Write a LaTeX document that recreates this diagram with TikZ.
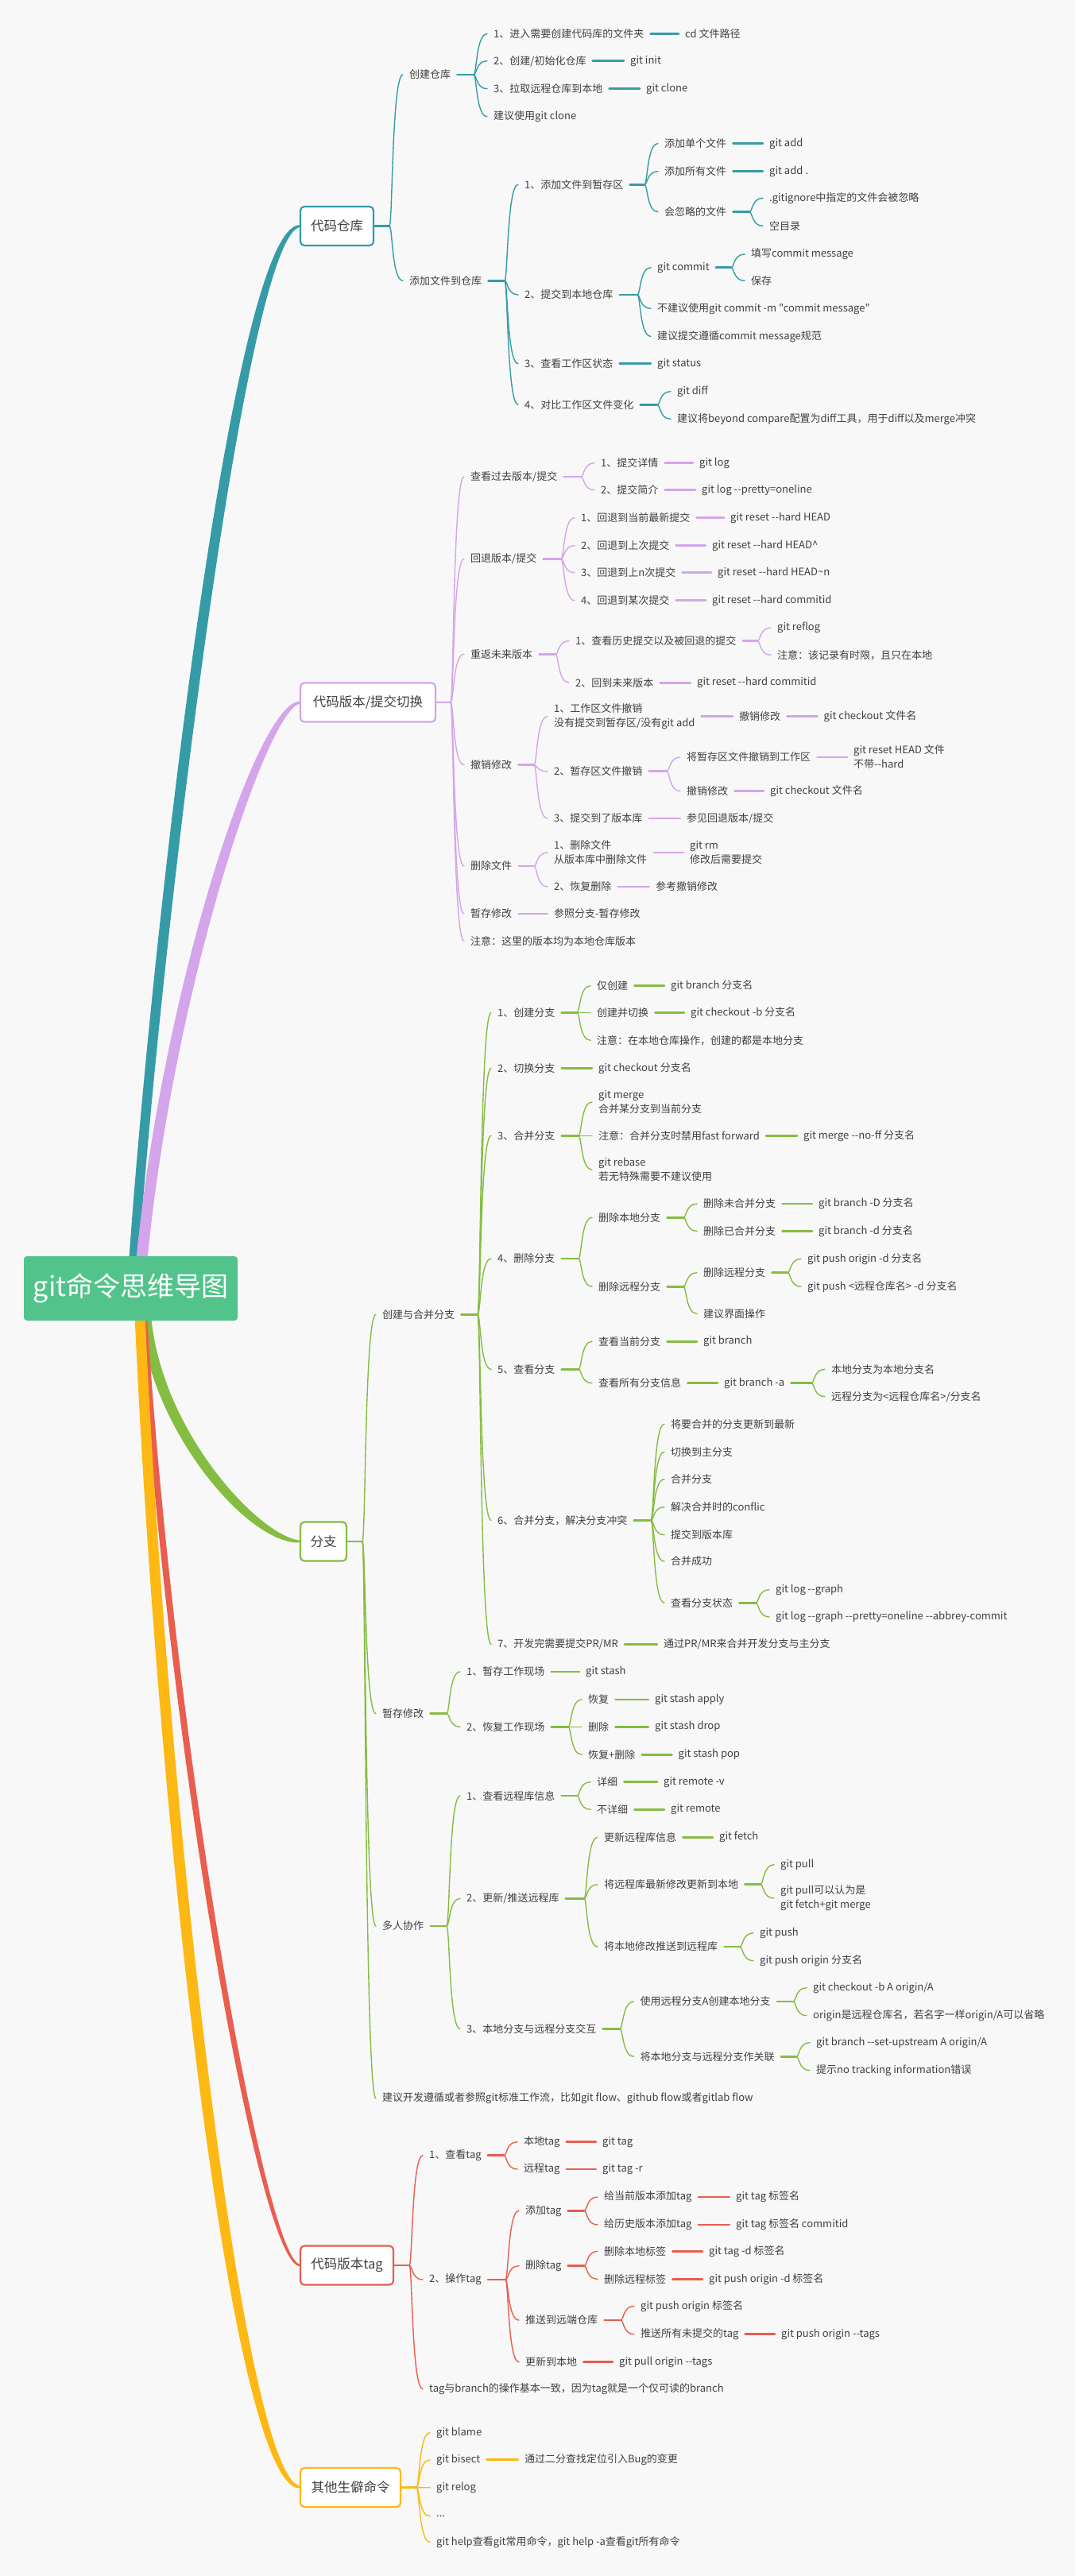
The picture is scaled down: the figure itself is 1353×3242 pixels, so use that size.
\documentclass[tikz,border=0pt]{standalone}
\usepackage{fontspec}
\newfontfamily\cjk{Noto Sans CJK SC}
\definecolor{ctl}{HTML}{359CA7}
\definecolor{clv}{HTML}{D4A5EA}
\definecolor{cgn}{HTML}{84BD41}
\definecolor{crd}{HTML}{E95E4E}
\definecolor{cyw}{HTML}{FDB813}
\definecolor{rootc}{HTML}{52C48B}
\definecolor{txc}{HTML}{404040}
\definecolor{bgc}{HTML}{F8F8F8}
\tikzset{
 tx/.style={anchor=west, inner sep=0pt, font=\cjk\fontsize{13}{18}\selectfont, text=txc, align=left},
 lone/.style={draw, fill=white, line width=2.2pt, rounded corners=5pt, minimum height=49pt, inner sep=0pt, font=\cjk\fontsize{16.5}{20}\selectfont, text=txc},
 stb/.style={line width=2.6pt, line cap=round},
 crv/.style={line width=1.4pt, line cap=round},
}
\newcommand\fan[5]{%
  \draw[stb,#1] ([xshift=8pt]#2.east) -- (#3,#4);
  \foreach \kid in {#5}{\draw[crv,#1] (#3,#4) .. controls +(4,0) and +(-14,0) .. ([xshift=-8pt]\kid.west);}%
}
\newcommand\fanbox[5]{%
  \draw[stb,#1] (#2.east) -- (#3,#4);
  \foreach \kid in {#5}{\draw[crv,#1] (#3,#4) .. controls +(4,0) and +(-14,0) .. ([xshift=-8pt]\kid.west);}%
}
\newcommand\lnk[3]{\draw[stb,#1] ([xshift=8pt]#2.east) -- ([xshift=-8pt]#3.west);}
\begin{document}
\begin{tikzpicture}[x=1pt,y=-1pt]
\fill[bgc] (0,0) rectangle (1353,3242);
\useasboundingbox (0,0) rectangle (1353,3242);
% main tapered branches
\fill[ctl] (162,1590) .. controls (189,1200) and (291.6,276.6) .. (378,283.2) -- (378,285.8) .. controls (308.4,292.4) and (201,1200) .. (174,1590) -- cycle;
\fill[clv] (171,1590) .. controls (203,1250) and (324,879) .. (378,882.7) -- (378,885.3) .. controls (336,891) and (217,1250) .. (185,1590) -- cycle;
\fill[cgn] (176,1655) .. controls (188,1800) and (314,1946) .. (378,1941.3) -- (378,1938.7) .. controls (326,1934) and (202,1800) .. (190,1655) -- cycle;
\fill[crd] (177,1655) .. controls (211,2200) and (326,2855) .. (378,2852.2) -- (378,2849.8) .. controls (334,2847) and (219,2200) .. (185,1655) -- cycle;
\fill[cyw] (169.5,1655) .. controls (198.5,2300) and (292,3138) .. (378,3131.5) -- (378,3128.5) .. controls (308,3122) and (211.5,2300) .. (182.5,1655) -- cycle;
% root
\node[fill=rootc, rounded corners=4pt, minimum width=269pt, minimum height=81pt, inner sep=0pt, font=\cjk\fontsize{34}{38}\selectfont, text=white] (R) at (164.5,1621.5) {git命令思维导图};
% level one
\node[lone, draw=ctl, minimum width=92pt] (A) at (424,284.5) {代码仓库};
\node[lone, draw=clv, minimum width=170pt] (B) at (463,884) {代码版本/提交切换};
\node[lone, draw=cgn, minimum width=58pt] (C) at (407,1940) {分支};
\node[lone, draw=crd, minimum width=117pt] (D) at (436.5,2851) {代码版本tag};
\node[lone, draw=cyw, minimum width=126pt] (E) at (441,3130.5) {其他生僻命令};
% ---------- A
\node[tx] (a1) at (515,94) {创建仓库};
\node[tx] (a11) at (621,42.7) {1、进入需要创建代码库的文件夹};
\node[tx] (a11x) at (862,42.7) {cd 文件路径};
\node[tx] (a12) at (621,76.7) {2、创建/初始化仓库};
\node[tx] (a12x) at (793,76.7) {git init};
\node[tx] (a13) at (621,111.7) {3、拉取远程仓库到本地};
\node[tx] (a13x) at (813,111.7) {git clone};
\node[tx] (a14) at (621,146.7) {建议使用git clone};
\node[tx] (a2) at (515,353.3) {添加文件到仓库};
\node[tx] (a21) at (660,232.3) {1、添加文件到暂存区};
\node[tx] (a211) at (836,180.7) {添加单个文件};
\node[tx] (a211x) at (968,180.7) {git add};
\node[tx] (a212) at (836,215.7) {添加所有文件};
\node[tx] (a212x) at (968,215.7) {git add .};
\node[tx] (a213) at (836,266.7) {会忽略的文件};
\node[tx] (a2131) at (968,249.3) {.gitignore中指定的文件会被忽略};
\node[tx] (a2132) at (968,284.3) {空目录};
\node[tx] (a22) at (660,371) {2、提交到本地仓库};
\node[tx] (a221) at (827,336.7) {git commit};
\node[tx] (a2211) at (945,320) {填写commit message};
\node[tx] (a2212) at (945,353.3) {保存};
\node[tx] (a222) at (827,388.3) {不建议使用git commit -m "commit message"};
\node[tx] (a223) at (827,423.3) {建议提交遵循commit message规范};
\node[tx] (a23) at (660,457.7) {3、查看工作区状态};
\node[tx] (a23x) at (827,457.7) {git status};
\node[tx] (a24) at (660,509.3) {4、对比工作区文件变化};
\node[tx] (a241) at (852,492.7) {git diff};
\node[tx] (a242) at (852,527.3) {建议将beyond compare配置为diff工具，用于diff以及merge冲突};
% ---------- B
\node[tx] (b1) at (592,600) {查看过去版本/提交};
\node[tx] (b11) at (756,582.7) {1、提交详情};
\node[tx] (b11x) at (880,582.7) {git log};
\node[tx] (b12) at (756,616.7) {2、提交简介};
\node[tx] (b12x) at (883,616.7) {git log --pretty=oneline};
\node[tx] (b2) at (592,703.3) {回退版本/提交};
\node[tx] (b21) at (731,651.7) {1、回退到当前最新提交};
\node[tx] (b21x) at (919,651.7) {git reset --hard HEAD};
\node[tx] (b22) at (731,686.7) {2、回退到上次提交};
\node[tx] (b22x) at (896,686.7) {git reset --hard HEAD\textasciicircum};
\node[tx] (b23) at (731,720.7) {3、回退到上n次提交};
\node[tx] (b23x) at (903,720.7) {git reset --hard HEAD\textasciitilde n};
\node[tx] (b24) at (731,755.7) {4、回退到某次提交};
\node[tx] (b24x) at (896,755.7) {git reset --hard commitid};
\node[tx] (b3) at (592,823.3) {重返未来版本};
\node[tx] (b31) at (724,806.7) {1、查看历史提交以及被回退的提交};
\node[tx] (b311) at (978,790) {git reflog};
\node[tx] (b312) at (978,824.3) {注意：该记录有时限，且只在本地};
\node[tx] (b32) at (724,859.3) {2、回到未来版本};
\node[tx] (b32x) at (877,859.3) {git reset --hard commitid};
\node[tx] (b4) at (592,962.7) {撤销修改};
\node[tx] (b41) at (697,901.6) {1、工作区文件撤销\\没有提交到暂存区/没有git add};
\node[tx] (b41x) at (930,901.6) {撤销修改};
\node[tx] (b41y) at (1036.5,901.6) {git checkout 文件名};
\node[tx] (b42) at (697,970.7) {2、暂存区文件撤销};
\node[tx] (b421) at (864,953) {将暂存区文件撤销到工作区};
\node[tx] (b421x) at (1074,953) {git reset HEAD 文件\\不带--hard};
\node[tx] (b422) at (864,995.7) {撤销修改};
\node[tx] (b422x) at (969,995.7) {git checkout 文件名};
\node[tx] (b43) at (697,1030) {3、提交到了版本库};
\node[tx] (b43x) at (864,1030) {参见回退版本/提交};
\node[tx] (b5) at (592,1090) {删除文件};
\node[tx] (b51) at (697,1073) {1、删除文件\\从版本库中删除文件};
\node[tx] (b51x) at (868,1073) {git rm\\修改后需要提交};
\node[tx] (b52) at (697,1116) {2、恢复删除};
\node[tx] (b52x) at (825,1116) {参考撤销修改};
\node[tx] (b6) at (592,1150) {暂存修改};
\node[tx] (b6x) at (697,1150) {参照分支-暂存修改};
\node[tx] (b7) at (592,1184.3) {注意：这里的版本均为本地仓库版本};
% ---------- C
\node[tx] (c1) at (481,1654.3) {创建与合并分支};
\node[tx] (c11) at (626,1274.3) {1、创建分支};
\node[tx] (c111) at (751,1240.7) {仅创建};
\node[tx] (c111x) at (844,1240.7) {git branch 分支名};
\node[tx] (c112) at (751,1274.3) {创建并切换};
\node[tx] (c112x) at (869,1274.3) {git checkout -b 分支名};
\node[tx] (c113) at (751,1309.3) {注意：在本地仓库操作，创建的都是本地分支};
\node[tx] (c12) at (626,1344.3) {2、切换分支};
\node[tx] (c12x) at (753,1344.3) {git checkout 分支名};
\node[tx] (c13) at (626,1429.3) {3、合并分支};
\node[tx] (c131) at (753,1387) {git merge\\合并某分支到当前分支};
\node[tx] (c132) at (753,1429.3) {注意：合并分支时禁用fast forward};
\node[tx] (c132x) at (1011,1429.3) {git merge --no-ff 分支名};
\node[tx] (c133) at (753,1472) {git rebase\\若无特殊需要不建议使用};
\node[tx] (c14) at (626,1584) {4、删除分支};
\node[tx] (c141) at (753,1532.3) {删除本地分支};
\node[tx] (c1411) at (885,1515) {删除未合并分支};
\node[tx] (c1411x) at (1030,1515) {git branch -D 分支名};
\node[tx] (c1412) at (885,1549.3) {删除已合并分支};
\node[tx] (c1412x) at (1030,1549.3) {git branch -d 分支名};
\node[tx] (c142) at (753,1619.3) {删除远程分支};
\node[tx] (c1421) at (885,1601.7) {删除远程分支};
\node[tx] (c14211) at (1016,1584.3) {git push origin -d 分支名};
\node[tx] (c14212) at (1016,1619.3) {git push <远程仓库名> -d 分支名};
\node[tx] (c1422) at (885,1653.3) {建议界面操作};
\node[tx] (c15) at (626,1723.3) {5、查看分支};
\node[tx] (c151) at (753,1688.3) {查看当前分支};
\node[tx] (c151x) at (885,1688.3) {git branch};
\node[tx] (c152) at (753,1740.7) {查看所有分支信息};
\node[tx] (c152x) at (911,1740.7) {git branch -a};
\node[tx] (c1521) at (1046,1723.3) {本地分支为本地分支名};
\node[tx] (c1522) at (1046,1757.7) {远程分支为<远程仓库名>/分支名};
\node[tx] (c16) at (626,1913.3) {6、合并分支，解决分支冲突};
\node[tx] (c161) at (844,1792.3) {将要合并的分支更新到最新};
\node[tx] (c162) at (844,1827.3) {切换到主分支};
\node[tx] (c163) at (844,1861.7) {合并分支};
\node[tx] (c164) at (844,1896.7) {解决合并时的conflic};
\node[tx] (c165) at (844,1931.7) {提交到版本库};
\node[tx] (c166) at (844,1965) {合并成功};
\node[tx] (c167) at (844,2017.3) {查看分支状态};
\node[tx] (c1671) at (976,2000.7) {git log --graph};
\node[tx] (c1672) at (976,2035) {git log --graph --pretty=oneline --abbrey-commit};
\node[tx] (c17) at (626,2069.3) {7、开发完需要提交PR/MR};
\node[tx] (c17x) at (835,2069.3) {通过PR/MR来合并开发分支与主分支};
\node[tx] (c2) at (481,2156.7) {暂存修改};
\node[tx] (c21) at (587,2104) {1、暂存工作现场};
\node[tx] (c21x) at (737,2104) {git stash};
\node[tx] (c22) at (587,2173.3) {2、恢复工作现场};
\node[tx] (c221) at (740,2139) {恢复};
\node[tx] (c221x) at (824,2139) {git stash apply};
\node[tx] (c222) at (740,2173.3) {删除};
\node[tx] (c222x) at (824,2173.3) {git stash drop};
\node[tx] (c223) at (740,2208.3) {恢复+删除};
\node[tx] (c223x) at (853.5,2208.3) {git stash pop};
\node[tx] (c3) at (481,2424) {多人协作};
\node[tx] (c31) at (587,2260) {1、查看远程库信息};
\node[tx] (c311) at (751,2242.7) {详细};
\node[tx] (c311x) at (835,2242.7) {git remote -v};
\node[tx] (c312) at (751,2277.3) {不详细};
\node[tx] (c312x) at (844,2277.3) {git remote};
\node[tx] (c32) at (587,2389.3) {2、更新/推送远程库};
\node[tx] (c321) at (760,2312.3) {更新远程库信息};
\node[tx] (c321x) at (905,2312.3) {git fetch};
\node[tx] (c322) at (760,2371.7) {将远程库最新修改更新到本地};
\node[tx] (c3221) at (982,2346.7) {git pull};
\node[tx] (c3222) at (982,2389) {git pull可以认为是\\git fetch+git merge};
\node[tx] (c323) at (760,2450) {将本地修改推送到远程库};
\node[tx] (c3231) at (956,2432.7) {git push};
\node[tx] (c3232) at (956,2467.7) {git push origin 分支名};
\node[tx] (c33) at (587,2553.3) {3、本地分支与远程分支交互};
\node[tx] (c331) at (805.5,2519) {使用远程分支A创建本地分支};
\node[tx] (c3311) at (1023,2501.7) {git checkout -b A origin/A};
\node[tx] (c3312) at (1023,2536.7) {origin是远程仓库名，若名字一样origin/A可以省略};
\node[tx] (c332) at (805.5,2588.3) {将本地分支与远程分支作关联};
\node[tx] (c3321) at (1027,2570.7) {git branch --set-upstream A origin/A};
\node[tx] (c3322) at (1027,2605.7) {提示no tracking information错误};
\node[tx] (c4) at (481,2640.7) {建议开发遵循或者参照git标准工作流，比如git flow、github flow或者gitlab flow};
% ---------- D
\node[tx] (d1) at (540,2712.7) {1、查看tag};
\node[tx] (d11) at (659,2695.7) {本地tag};
\node[tx] (d11x) at (758,2695.7) {git tag};
\node[tx] (d12) at (659,2730) {远程tag};
\node[tx] (d12x) at (758,2730) {git tag -r};
\node[tx] (d2) at (540,2869) {2、操作tag};
\node[tx] (d21) at (661,2782.3) {添加tag};
\node[tx] (d211) at (760,2765) {给当前版本添加tag};
\node[tx] (d211x) at (926,2765) {git tag 标签名};
\node[tx] (d212) at (760,2800) {给历史版本添加tag};
\node[tx] (d212x) at (926,2800) {git tag 标签名 commitid};
\node[tx] (d22) at (661,2851.7) {删除tag};
\node[tx] (d221) at (760,2833.3) {删除本地标签};
\node[tx] (d221x) at (892,2833.3) {git tag -d 标签名};
\node[tx] (d222) at (760,2868.3) {删除远程标签};
\node[tx] (d222x) at (892,2868.3) {git push origin -d 标签名};
\node[tx] (d23) at (661,2920) {推送到远端仓库};
\node[tx] (d231) at (806,2902.3) {git push origin 标签名};
\node[tx] (d232) at (806,2937.7) {推送所有未提交的tag};
\node[tx] (d232x) at (983,2937.7) {git push origin --tags};
\node[tx] (d24) at (661,2972.7) {更新到本地};
\node[tx] (d24x) at (779,2972.7) {git pull origin --tags};
\node[tx] (d3) at (540,3006.7) {tag与branch的操作基本一致，因为tag就是一个仅可读的branch};
% ---------- E
\node[tx] (e1) at (549,3061.7) {git blame};
\node[tx] (e2) at (549,3095.7) {git bisect};
\node[tx] (e2x) at (660,3095.7) {通过二分查找定位引入Bug的变更};
\node[tx] (e3) at (549,3130.7) {git relog};
\node[tx] (e4) at (549,3166.7) {...};
\node[tx] (e5) at (549,3199.3) {git help查看git常用命令，git help -a查看git所有命令};
% ---------- connectors A
\fanbox{ctl}{A}{490}{284.5}{a1,a2}
\fan{ctl}{a1}{596}{94}{a11,a12,a13,a14}
\lnk{ctl}{a11}{a11x}\lnk{ctl}{a12}{a12x}\lnk{ctl}{a13}{a13x}
\fan{ctl}{a2}{635}{353.3}{a21,a22,a23,a24}
\fan{ctl}{a21}{811}{232.3}{a211,a212,a213}
\lnk{ctl}{a211}{a211x}\lnk{ctl}{a212}{a212x}
\fan{ctl}{a213}{943}{266.7}{a2131,a2132}
\fan{ctl}{a22}{802}{371}{a221,a222,a223}
\fan{ctl}{a221}{920}{336.7}{a2211,a2212}
\lnk{ctl}{a23}{a23x}
\fan{ctl}{a24}{827}{509.3}{a241,a242}
% ---------- connectors B
\fanbox{clv}{B}{567}{884}{b1,b2,b3,b4,b5,b6,b7}
\fan{clv}{b1}{731}{600}{b11,b12}
\lnk{clv}{b11}{b11x}\lnk{clv}{b12}{b12x}
\fan{clv}{b2}{706}{703.3}{b21,b22,b23,b24}
\lnk{clv}{b21}{b21x}\lnk{clv}{b22}{b22x}\lnk{clv}{b23}{b23x}\lnk{clv}{b24}{b24x}
\fan{clv}{b3}{699}{823.3}{b31,b32}
\fan{clv}{b31}{953}{806.7}{b311,b312}
\lnk{clv}{b32}{b32x}
\fan{clv}{b4}{672}{962.7}{b41,b42,b43}
\lnk{clv}{b41}{b41x}\lnk{clv}{b41x}{b41y}
\fan{clv}{b42}{839}{970.7}{b421,b422}
\lnk{clv}{b421}{b421x}\lnk{clv}{b422}{b422x}\lnk{clv}{b43}{b43x}
\fan{clv}{b5}{672}{1090}{b51,b52}
\lnk{clv}{b51}{b51x}\lnk{clv}{b52}{b52x}
\lnk{clv}{b6}{b6x}
% ---------- connectors C
\fanbox{cgn}{C}{456}{1940}{c1,c2,c3,c4}
\fan{cgn}{c1}{601}{1654.3}{c11,c12,c13,c14,c15,c16,c17}
\fan{cgn}{c11}{726}{1274.3}{c111,c112,c113}
\lnk{cgn}{c111}{c111x}\lnk{cgn}{c112}{c112x}
\lnk{cgn}{c12}{c12x}
\fan{cgn}{c13}{728}{1429.3}{c131,c132,c133}
\lnk{cgn}{c132}{c132x}
\fan{cgn}{c14}{728}{1584}{c141,c142}
\fan{cgn}{c141}{860}{1532.3}{c1411,c1412}
\lnk{cgn}{c1411}{c1411x}\lnk{cgn}{c1412}{c1412x}
\fan{cgn}{c142}{860}{1619.3}{c1421,c1422}
\fan{cgn}{c1421}{991}{1601.7}{c14211,c14212}
\fan{cgn}{c15}{728}{1723.3}{c151,c152}
\lnk{cgn}{c151}{c151x}\lnk{cgn}{c152}{c152x}
\fan{cgn}{c152x}{1021}{1740.7}{c1521,c1522}
\fan{cgn}{c16}{819}{1913.3}{c161,c162,c163,c164,c165,c166,c167}
\fan{cgn}{c167}{951}{2017.3}{c1671,c1672}
\lnk{cgn}{c17}{c17x}
\fan{cgn}{c2}{562}{2156.7}{c21,c22}
\lnk{cgn}{c21}{c21x}
\fan{cgn}{c22}{715}{2173.3}{c221,c222,c223}
\lnk{cgn}{c221}{c221x}\lnk{cgn}{c222}{c222x}\lnk{cgn}{c223}{c223x}
\fan{cgn}{c3}{562}{2424}{c31,c32,c33}
\fan{cgn}{c31}{726}{2260}{c311,c312}
\lnk{cgn}{c311}{c311x}\lnk{cgn}{c312}{c312x}
\fan{cgn}{c32}{735}{2389.3}{c321,c322,c323}
\lnk{cgn}{c321}{c321x}
\fan{cgn}{c322}{957}{2371.7}{c3221,c3222}
\fan{cgn}{c323}{931}{2450}{c3231,c3232}
\fan{cgn}{c33}{780}{2553.3}{c331,c332}
\fan{cgn}{c331}{998}{2519}{c3311,c3312}
\fan{cgn}{c332}{1002}{2588.3}{c3321,c3322}
% ---------- connectors D
\fanbox{crd}{D}{515}{2851}{d1,d2,d3}
\fan{crd}{d1}{634}{2712.7}{d11,d12}
\lnk{crd}{d11}{d11x}\lnk{crd}{d12}{d12x}
\fan{crd}{d2}{636}{2869}{d21,d22,d23,d24}
\fan{crd}{d21}{735}{2782.3}{d211,d212}
\lnk{crd}{d211}{d211x}\lnk{crd}{d212}{d212x}
\fan{crd}{d22}{735}{2851.7}{d221,d222}
\lnk{crd}{d221}{d221x}\lnk{crd}{d222}{d222x}
\fan{crd}{d23}{781}{2920}{d231,d232}
\lnk{crd}{d232}{d232x}
\lnk{crd}{d24}{d24x}
% ---------- connectors E
\fanbox{cyw}{E}{524}{3130.5}{e1,e2,e3,e4,e5}
\lnk{cyw}{e2}{e2x}
\end{tikzpicture}
\end{document}
